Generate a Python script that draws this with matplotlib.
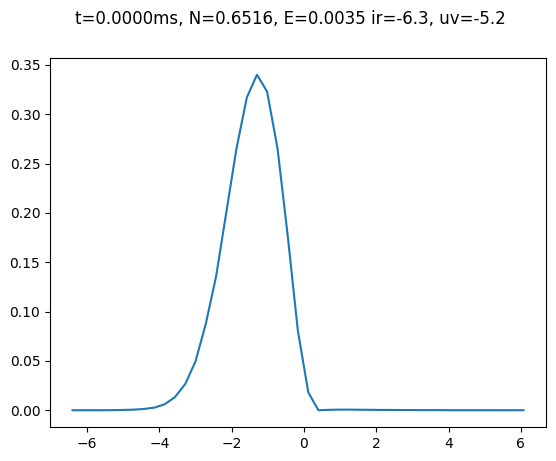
import numpy as np
import matplotlib
matplotlib.use('Agg')
import matplotlib.pyplot as plt

# grid points
x = [-6.40, -6.12, -5.83, -5.55, -5.27, -4.98, -4.70, -4.42, -4.13, -3.85,
     -3.57, -3.28, -3.00, -2.72, -2.43, -2.15, -1.87, -1.58, -1.30, -1.02,
     -0.73, -0.45, -0.17, 0.12, 0.40, 0.69, 0.97, 1.25, 1.54, 1.82,
     2.10, 2.39, 2.67, 2.95, 3.24, 3.52, 3.80, 4.09, 4.37, 4.65,
     4.94, 5.22, 5.50, 5.79, 6.07]

# density values
y = [0.0, 0.0, 0.0, 0.0, 0.0001, 0.0003, 0.0006, 0.0013, 0.0027, 0.0061,
     0.0132, 0.0268, 0.0495, 0.0868, 0.1356, 0.2000, 0.2645, 0.3170, 0.3400, 0.3230,
     0.2650, 0.1770, 0.0810, 0.0180, 0.0, 0.0004, 0.0006, 0.0006, 0.0005, 0.0004,
     0.0003, 0.0003, 0.0002, 0.0002, 0.0001, 0.0001, 0.0001, 0.0, 0.0, 0.0,
     0.0, 0.0, 0.0, 0.0, 0.0]

title = "t=0.0000ms, N=0.6516, E=0.0035 ir=-6.3, uv=-5.2"

fig = plt.figure(figsize=(5.56, 4.61), dpi=100)
ax = fig.add_axes([50 / 556, 34 / 461, 496 / 556, 369 / 461])
ax.plot(x, y)
fig.suptitle(title, x=290 / 556, y=1 - 9.6 / 461, fontsize=12)

fig.savefig("out.png", dpi=100)
